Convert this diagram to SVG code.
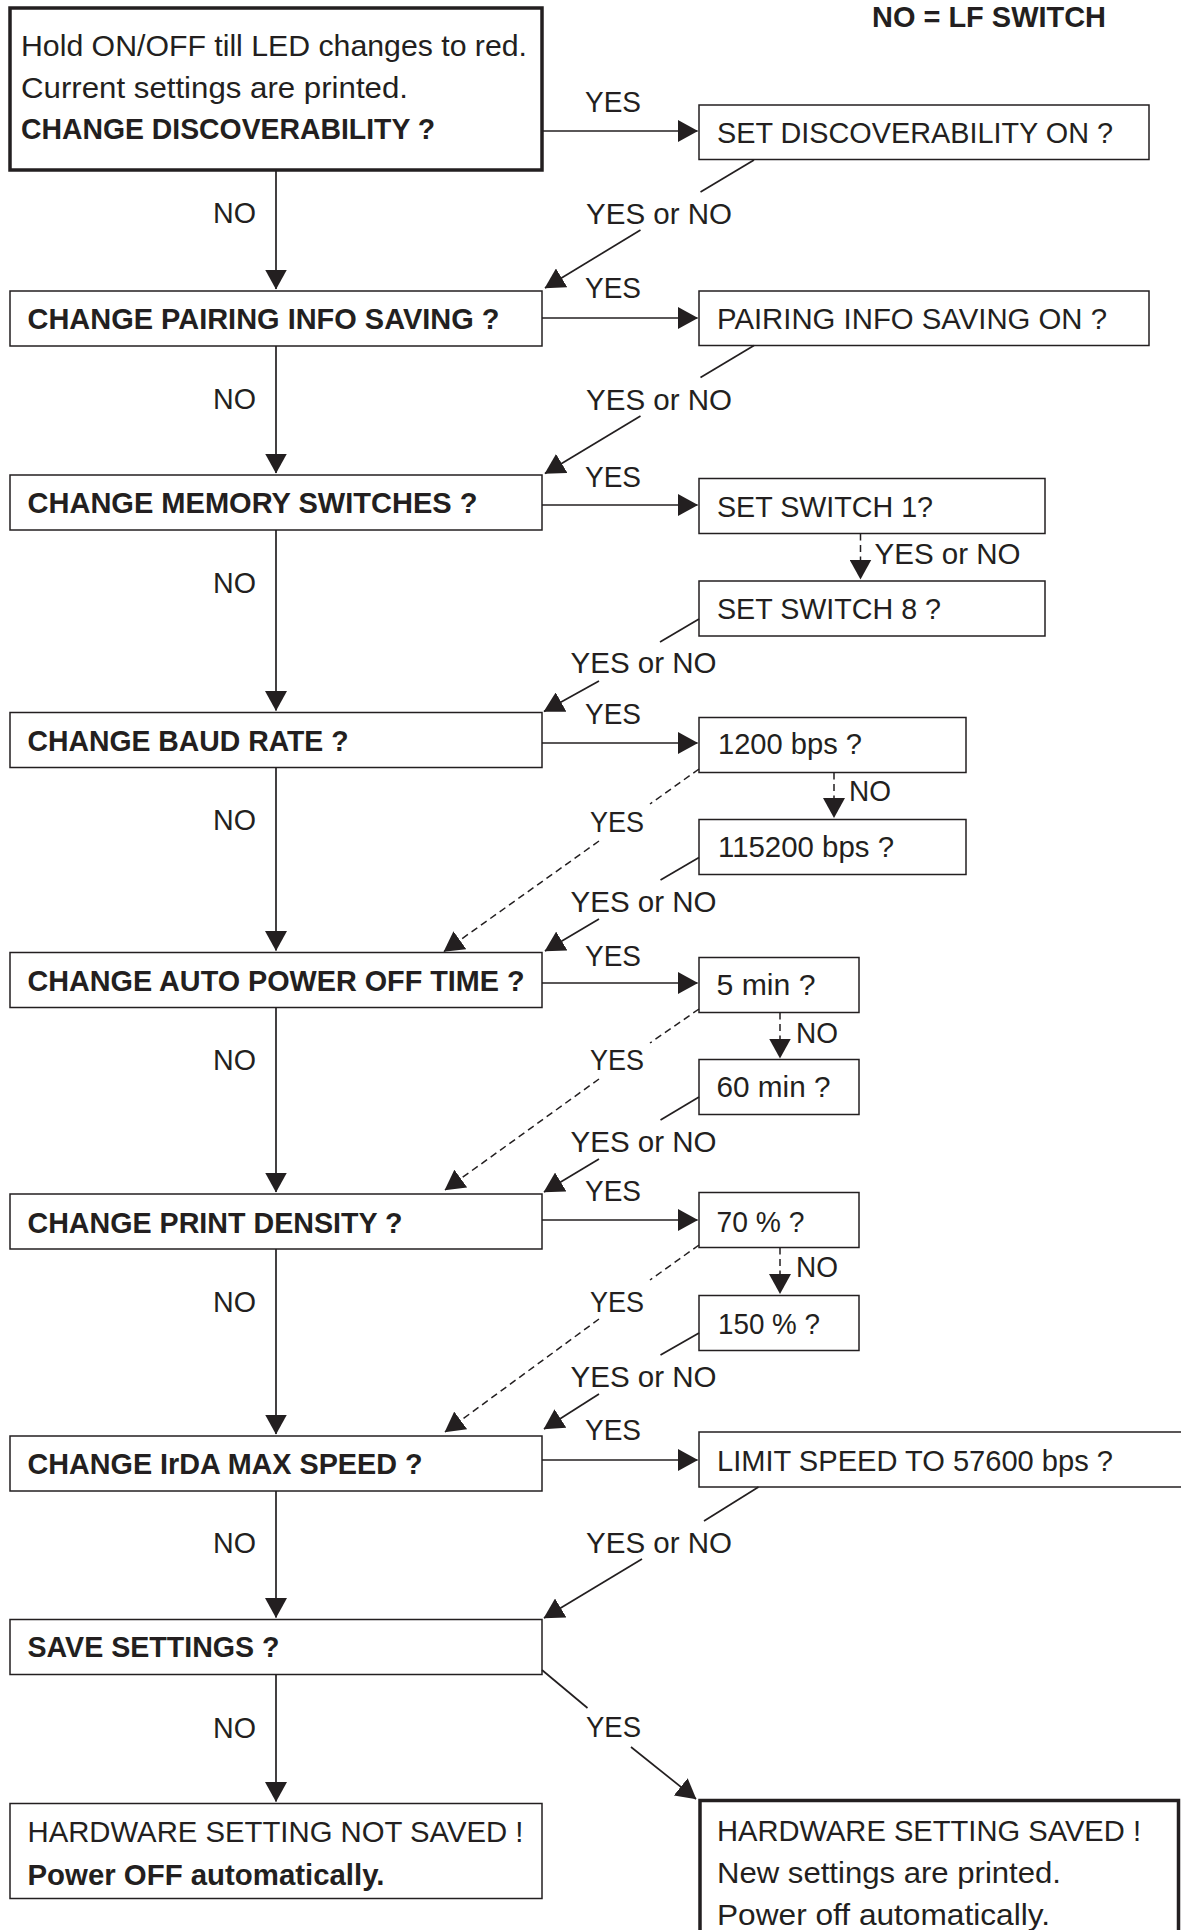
<svg xmlns="http://www.w3.org/2000/svg" width="1181" height="1930" viewBox="0 0 1181 1930">
<style>
.bx{fill:#fff;stroke:#231f20;stroke-width:1.5}
.tk{fill:#fff;stroke:#231f20;stroke-width:3.5}
.t{font-family:"Liberation Sans",Arial,sans-serif;font-size:29.5px;fill:#231f20}
.b{font-weight:bold}
.ln{fill:none;stroke:#231f20;stroke-width:1.7}
.ar{marker-end:url(#ah)}
.ds{stroke-dasharray:7 4.5;stroke-width:1.5}
</style>
<defs>
<marker id="ah" viewBox="0 0 20 22" refX="19.5" refY="11" markerWidth="20" markerHeight="22" markerUnits="userSpaceOnUse" orient="auto">
<path d="M0,0 L20,11 L0,22 z" fill="#231f20"/>
</marker>
</defs>
<rect width="1181" height="1930" fill="#fff"/>

<text class="t b" x="872" y="27" textLength="234" lengthAdjust="spacingAndGlyphs">NO = LF SWITCH</text>

<g id="n-start">
<rect class="tk" x="10" y="8" width="532" height="162"/>
<text class="t" x="21" y="56" textLength="506" lengthAdjust="spacingAndGlyphs">Hold ON/OFF till LED changes to red.</text>
<text class="t" x="21" y="98" textLength="387" lengthAdjust="spacingAndGlyphs">Current settings are printed.</text>
<text class="t b" x="21" y="139" textLength="414" lengthAdjust="spacingAndGlyphs">CHANGE DISCOVERABILITY ?</text>
</g>
<g id="n-pairing">
<rect class="bx" x="10" y="291" width="532" height="55"/>
<text class="t b" x="27.5" y="329" textLength="472" lengthAdjust="spacingAndGlyphs">CHANGE PAIRING INFO SAVING ?</text>
</g>
<g id="n-memory">
<rect class="bx" x="10" y="475" width="532" height="55"/>
<text class="t b" x="27.5" y="513" textLength="450" lengthAdjust="spacingAndGlyphs">CHANGE MEMORY SWITCHES ?</text>
</g>
<g id="n-baud">
<rect class="bx" x="10" y="712.5" width="532" height="55"/>
<text class="t b" x="27.5" y="751" textLength="321" lengthAdjust="spacingAndGlyphs">CHANGE BAUD RATE ?</text>
</g>
<g id="n-autopower">
<rect class="bx" x="10" y="952.5" width="532" height="55"/>
<text class="t b" x="27.5" y="991" textLength="497" lengthAdjust="spacingAndGlyphs">CHANGE AUTO POWER OFF TIME ?</text>
</g>
<g id="n-density">
<rect class="bx" x="10" y="1194" width="532" height="55"/>
<text class="t b" x="27.5" y="1233" textLength="375" lengthAdjust="spacingAndGlyphs">CHANGE PRINT DENSITY ?</text>
</g>
<g id="n-irda">
<rect class="bx" x="10" y="1436" width="532" height="55"/>
<text class="t b" x="27.5" y="1474" textLength="395" lengthAdjust="spacingAndGlyphs">CHANGE IrDA MAX SPEED ?</text>
</g>
<g id="n-save">
<rect class="bx" x="10" y="1619.5" width="532" height="55"/>
<text class="t b" x="27.5" y="1657" textLength="252" lengthAdjust="spacingAndGlyphs">SAVE SETTINGS ?</text>
</g>
<g id="n-notsaved">
<rect class="bx" x="10" y="1803.5" width="532" height="95"/>
<text class="t" x="27.5" y="1842" textLength="496" lengthAdjust="spacingAndGlyphs">HARDWARE SETTING NOT SAVED !</text>
<text class="t b" x="27.5" y="1885" textLength="357" lengthAdjust="spacingAndGlyphs">Power OFF automatically.</text>
</g>

<g id="n-disc-on">
<rect class="bx" x="699" y="105" width="450" height="54.5"/>
<text class="t" x="717" y="143" textLength="396" lengthAdjust="spacingAndGlyphs">SET DISCOVERABILITY ON ?</text>
</g>
<g id="n-pair-on">
<rect class="bx" x="699" y="291" width="450" height="54.5"/>
<text class="t" x="717" y="329" textLength="390" lengthAdjust="spacingAndGlyphs">PAIRING INFO SAVING ON ?</text>
</g>
<g id="n-sw1">
<rect class="bx" x="699" y="478.5" width="346" height="55"/>
<text class="t" x="717" y="517" textLength="216" lengthAdjust="spacingAndGlyphs">SET SWITCH 1?</text>
</g>
<g id="n-sw8">
<rect class="bx" x="699" y="581" width="346" height="55"/>
<text class="t" x="717" y="619" textLength="224" lengthAdjust="spacingAndGlyphs">SET SWITCH 8 ?</text>
</g>
<g id="n-1200">
<rect class="bx" x="699" y="717.5" width="267" height="55"/>
<text class="t" x="718" y="754" textLength="144" lengthAdjust="spacingAndGlyphs">1200 bps ?</text>
</g>
<g id="n-115200">
<rect class="bx" x="699" y="819.5" width="267" height="55"/>
<text class="t" x="718" y="856.5" textLength="176" lengthAdjust="spacingAndGlyphs">115200 bps ?</text>
</g>
<g id="n-5min">
<rect class="bx" x="699" y="957.5" width="160" height="55"/>
<text class="t" x="716.5" y="995" textLength="99" lengthAdjust="spacingAndGlyphs">5 min ?</text>
</g>
<g id="n-60min">
<rect class="bx" x="699" y="1059.5" width="160" height="55"/>
<text class="t" x="716.5" y="1097" textLength="114" lengthAdjust="spacingAndGlyphs">60 min ?</text>
</g>
<g id="n-70">
<rect class="bx" x="699" y="1192.5" width="160" height="55"/>
<text class="t" x="716.5" y="1232" textLength="88" lengthAdjust="spacingAndGlyphs">70 % ?</text>
</g>
<g id="n-150">
<rect class="bx" x="699" y="1295.5" width="160" height="55"/>
<text class="t" x="718" y="1333.5" textLength="102" lengthAdjust="spacingAndGlyphs">150 % ?</text>
</g>
<g id="n-limit">
<rect class="bx" x="699" y="1432" width="500" height="55"/>
<text class="t" x="717" y="1470.5" textLength="396" lengthAdjust="spacingAndGlyphs">LIMIT SPEED TO 57600 bps ?</text>
</g>
<g id="n-saved">
<rect class="tk" x="700" y="1800.5" width="478.5" height="160"/>
<text class="t" x="717" y="1841" textLength="424" lengthAdjust="spacingAndGlyphs">HARDWARE SETTING SAVED !</text>
<text class="t" x="717" y="1883" textLength="344" lengthAdjust="spacingAndGlyphs">New settings are printed.</text>
<text class="t" x="717" y="1925" textLength="333" lengthAdjust="spacingAndGlyphs">Power off automatically.</text>
</g>

<g id="connectors">
<path class="ln ar" d="M276,170 V289"/>
<path class="ln ar" d="M276,346 V473"/>
<path class="ln ar" d="M276,530 V710.5"/>
<path class="ln ar" d="M276,767.5 V950.5"/>
<path class="ln ar" d="M276,1007.5 V1192"/>
<path class="ln ar" d="M276,1249 V1434"/>
<path class="ln ar" d="M276,1491 V1617.5"/>
<path class="ln ar" d="M276,1674.5 V1801.5"/>

<path class="ln ar" d="M542,131 H697.5"/>
<path class="ln ar" d="M542,318 H697.5"/>
<path class="ln ar" d="M542,505 H697.5"/>
<path class="ln ar" d="M542,743 H697.5"/>
<path class="ln ar" d="M542,983 H697.5"/>
<path class="ln ar" d="M542,1220 H697.5"/>
<path class="ln ar" d="M542,1460 H697.5"/>

<path class="ln" d="M754,160 L700.5,192"/>
<path class="ln ar" d="M640.5,230 L545,288"/>
<path class="ln" d="M754,345.5 L700.5,377.5"/>
<path class="ln ar" d="M640.5,416 L545,473.5"/>
<path class="ln" d="M699,619 L660,642"/>
<path class="ln ar" d="M599,681 L544,711.5"/>
<path class="ln" d="M699,857.5 L660.5,880"/>
<path class="ln ar" d="M599,919 L545,951"/>
<path class="ln" d="M699,1097 L660.5,1120"/>
<path class="ln ar" d="M599,1159 L544,1192"/>
<path class="ln" d="M699,1333 L660.5,1355"/>
<path class="ln ar" d="M599,1394 L544,1429"/>
<path class="ln" d="M758.5,1487 L704,1521"/>
<path class="ln ar" d="M642,1559 L544,1618"/>
<path class="ln" d="M542,1670 L587.5,1708"/>
<path class="ln ar" d="M631,1747 L696,1799"/>

<path class="ln ds" d="M699,769 L650,804"/>
<path class="ln ds ar" d="M599,841 L444,951.5"/>
<path class="ln ds" d="M699,1009 L650,1043"/>
<path class="ln ds ar" d="M599,1079 L445,1190"/>
<path class="ln ds" d="M699,1245 L650,1280"/>
<path class="ln ds ar" d="M599,1319 L445,1432"/>

<path class="ln ds ar" d="M860.5,533.5 V579"/>
<path class="ln ds ar" d="M834,772.5 V817.5"/>
<path class="ln ds ar" d="M780,1012.5 V1058"/>
<path class="ln ds ar" d="M780,1247.5 V1293.5"/>

<text class="t" x="213" y="223" textLength="43" lengthAdjust="spacingAndGlyphs">NO</text>
<text class="t" x="213" y="409" textLength="43" lengthAdjust="spacingAndGlyphs">NO</text>
<text class="t" x="213" y="592.5" textLength="43" lengthAdjust="spacingAndGlyphs">NO</text>
<text class="t" x="213" y="830" textLength="43" lengthAdjust="spacingAndGlyphs">NO</text>
<text class="t" x="213" y="1070" textLength="43" lengthAdjust="spacingAndGlyphs">NO</text>
<text class="t" x="213" y="1311.5" textLength="43" lengthAdjust="spacingAndGlyphs">NO</text>
<text class="t" x="213" y="1553" textLength="43" lengthAdjust="spacingAndGlyphs">NO</text>
<text class="t" x="213" y="1738" textLength="43" lengthAdjust="spacingAndGlyphs">NO</text>

<text class="t" x="585" y="112" textLength="56" lengthAdjust="spacingAndGlyphs">YES</text>
<text class="t" x="585" y="298" textLength="56" lengthAdjust="spacingAndGlyphs">YES</text>
<text class="t" x="585" y="486.5" textLength="56" lengthAdjust="spacingAndGlyphs">YES</text>
<text class="t" x="585" y="724" textLength="56" lengthAdjust="spacingAndGlyphs">YES</text>
<text class="t" x="585" y="965.5" textLength="56" lengthAdjust="spacingAndGlyphs">YES</text>
<text class="t" x="585" y="1201" textLength="56" lengthAdjust="spacingAndGlyphs">YES</text>
<text class="t" x="585" y="1440" textLength="56" lengthAdjust="spacingAndGlyphs">YES</text>

<text class="t" x="586" y="223.5" textLength="146" lengthAdjust="spacingAndGlyphs">YES or NO</text>
<text class="t" x="586" y="409.5" textLength="146" lengthAdjust="spacingAndGlyphs">YES or NO</text>
<text class="t" x="570.5" y="672.5" textLength="146" lengthAdjust="spacingAndGlyphs">YES or NO</text>
<text class="t" x="570.5" y="911.5" textLength="146" lengthAdjust="spacingAndGlyphs">YES or NO</text>
<text class="t" x="570.5" y="1151.5" textLength="146" lengthAdjust="spacingAndGlyphs">YES or NO</text>
<text class="t" x="570.5" y="1386.5" textLength="146" lengthAdjust="spacingAndGlyphs">YES or NO</text>
<text class="t" x="586" y="1553" textLength="146" lengthAdjust="spacingAndGlyphs">YES or NO</text>
<text class="t" x="874.5" y="563.5" textLength="146" lengthAdjust="spacingAndGlyphs">YES or NO</text>

<text class="t" x="590" y="831.5" textLength="54" lengthAdjust="spacingAndGlyphs">YES</text>
<text class="t" x="590" y="1070" textLength="54" lengthAdjust="spacingAndGlyphs">YES</text>
<text class="t" x="590" y="1311.5" textLength="54" lengthAdjust="spacingAndGlyphs">YES</text>
<text class="t" x="586" y="1737" textLength="55" lengthAdjust="spacingAndGlyphs">YES</text>

<text class="t" x="849" y="801" textLength="42" lengthAdjust="spacingAndGlyphs">NO</text>
<text class="t" x="796" y="1043" textLength="42" lengthAdjust="spacingAndGlyphs">NO</text>
<text class="t" x="796" y="1277" textLength="42" lengthAdjust="spacingAndGlyphs">NO</text>
</g>
</svg>
